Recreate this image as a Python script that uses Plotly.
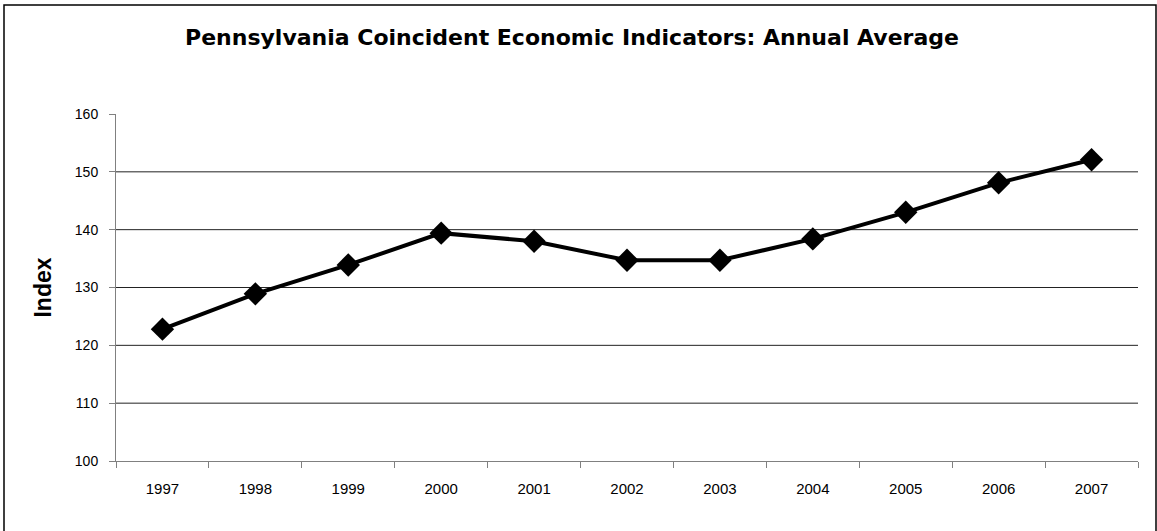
import plotly.graph_objects as go

years = ["1997", "1998", "1999", "2000", "2001", "2002", "2003", "2004", "2005", "2006", "2007"]
index_values = [122.8, 128.9, 133.9, 139.4, 138.0, 134.7, 134.7, 138.4, 143.0, 148.1, 152.1]
y_ticks = [100, 110, 120, 130, 140, 150, 160]

W, H = 1157, 531
L, R, T, B = 116, 19, 114, 70
pw, ph = W - L - R, H - T - B

def px_x(x):
    return (x - L) / pw

def px_y(y):
    return (H - B - y) / ph

FONT = "Liberation Sans, Arial, sans-serif"

fig = go.Figure()
fig.add_trace(go.Scatter(
    x=years, y=index_values, mode="lines+markers",
    line=dict(color="black", width=4),
    marker=dict(symbol="diamond", size=18, color="black"),
    showlegend=False, cliponaxis=False,
))

# horizontal gridlines (excluding the top 160 line)
for v in y_ticks[1:-1]:
    fig.add_shape(type="line", xref="paper", yref="y", x0=0, x1=1, y0=v, y1=v,
                  line=dict(color="#222222", width=1), layer="below")

# outer chart border
fig.add_shape(type="rect", xref="paper", yref="paper",
              x0=px_x(4), x1=px_x(1156), y0=px_y(560), y1=px_y(5),
              line=dict(color="black", width=1.5), fillcolor="rgba(0,0,0,0)")

fig.update_layout(
    width=W, height=H,
    margin=dict(l=L, r=R, t=T, b=B),
    paper_bgcolor="white", plot_bgcolor="white",
    font=dict(family=FONT, color="black", size=13),
    title=dict(text="<b>Pennsylvania Coincident Economic Indicators: Annual Average</b>",
               x=px_x(572), xanchor="center", xref="paper",
               y=1 - 37 / H, yanchor="middle",
               font=dict(size=22, family="DejaVu Sans, Liberation Sans, sans-serif")),
)
fig.update_xaxes(
    type="category", range=[-0.5, 10.5], showgrid=False,
    showline=True, linecolor="#808080", linewidth=1,
    ticks="outside", tickson="boundaries", ticklen=6, tickcolor="#808080",
    tickfont=dict(size=15, family=FONT), ticklabelstandoff=14,
)
fig.update_yaxes(
    range=[100, 160], tickvals=y_ticks, showgrid=False, zeroline=False,
    showline=True, linecolor="#808080", linewidth=1,
    ticks="outside", ticklen=6, tickcolor="#808080",
    tickfont=dict(size=14, family=FONT), ticklabelstandoff=8,
    title=dict(text="<b>Index</b>", font=dict(size=23), standoff=16),
)
fig.write_html("out.html", config={"displayModeBar": False},
               post_script="document.body.style.margin='0';")
